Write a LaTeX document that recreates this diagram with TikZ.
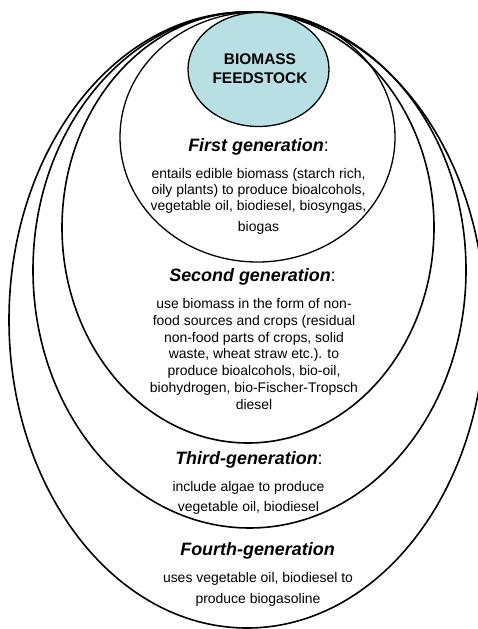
\documentclass[tikz,border=0pt]{standalone}
\usepackage{fontspec}
\setmainfont{Liberation Sans}
\definecolor{feedfill}{RGB}{183,223,228}
\begin{document}
\begin{tikzpicture}[x=1bp,y=-1bp,
  ring/.style={draw=black,line width=1.6bp},
  innerring/.style={draw=black,line width=1.3bp},
  head/.style={font=\fontsize{18}{20}\selectfont\bfseries\itshape,inner sep=0pt},
  body/.style={font=\fontsize{14}{16}\selectfont,align=center,inner sep=0pt},
  title/.style={font=\fontsize{15.5}{19}\selectfont\bfseries,align=center,inner sep=0pt},
]
\useasboundingbox (0,0) rectangle (478,629);

% nested generations, outermost first
\draw[ring] (247,320) ellipse [x radius=238, y radius=308];
\draw[ring] (249.5,270) ellipse [x radius=216.5, y radius=258];
\draw[ring] (248,227.5) ellipse [x radius=186, y radius=215.5];
\draw[innerring] (257.5,137) ellipse [x radius=137.5, y radius=125];
\draw[innerring,fill=feedfill] (258.5,69.5) ellipse [x radius=70.5, y radius=57];

\node[title] (feed) at (260,68.5) {BIOMASS\\FEEDSTOCK};

\node[head] (g1) at (258.5,147) {First generation\textmd{\upshape:}};
\node[body] (g1t) at (258.5,201.5) {entails edible biomass (starch rich,\\
  oily plants) to produce bioalcohols,\\
  vegetable oil, biodiesel, biosyngas,\\[5bp]
  biogas};

\node[head] (g2) at (252.5,277) {Second generation\textmd{\upshape:}};
\node[body,font=\fontsize{14}{17}\selectfont] (g2t) at (254,354) {use biomass in the form of non-\\
  food sources and crops (residual\\
  non-food parts of crops, solid\\
  waste, wheat straw etc.). to\\
  produce bioalcohols, bio-oil,\\
  biohydrogen, bio-Fischer-Tropsch\\
  diesel};

\node[head] (g3) at (249,460) {Third-generation\textmd{\upshape:}};
\node[body,font=\fontsize{14}{20}\selectfont] (g3t) at (248.5,498) {include algae to produce\\
  vegetable oil, biodiesel};

\node[head] (g4) at (257.5,551) {Fourth-generation};
\node[body,font=\fontsize{14}{21}\selectfont] (g4t) at (258,589.5) {uses vegetable oil, biodiesel to\\
  produce biogasoline};
\end{tikzpicture}
\end{document}
